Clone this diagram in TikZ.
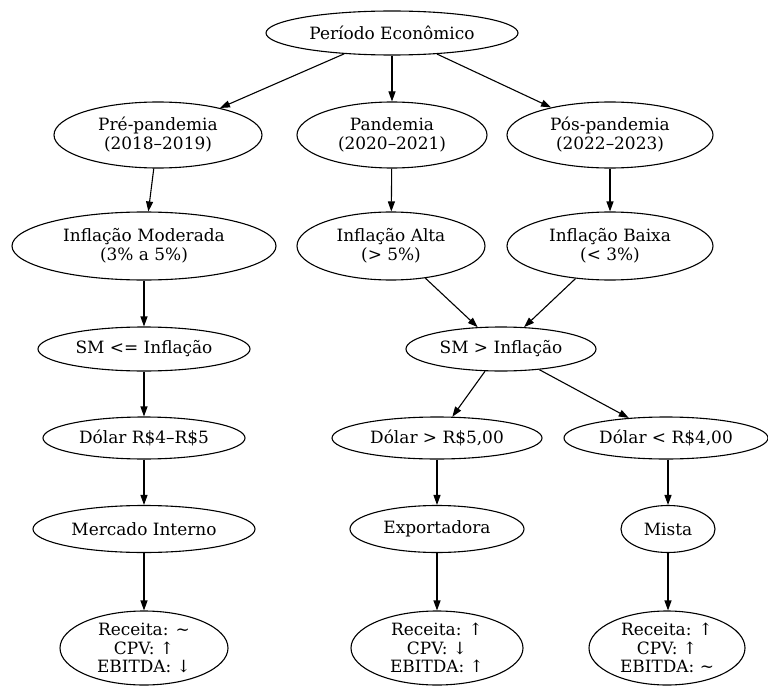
\documentclass[tikz,border=0pt]{standalone}
\usepackage{fontspec}
\setmainfont{DejaVu Serif}
\usetikzlibrary{shapes.geometric,arrows.meta}
\begin{document}
\begin{tikzpicture}[x=1bp,y=-1bp,
  el/.style 2 args={ellipse,draw,line width=1.1bp,inner sep=0pt,minimum width=#1bp,minimum height=#2bp},
  topt/.style={font=\fontsize{17}{19}\selectfont,align=center},
  lowt/.style={font=\fontsize{17}{18.5}\selectfont,align=center},
  arr/.style={-{Triangle[length=10bp,width=7bp]},line width=1.1bp}]
\useasboundingbox[fill=white] (0,0) rectangle (768,686);
% top part
\node[el={252}{44},label={[topt,name=Pt]center:Período Econômico}] (P) at (392,33) {};
\node[el={208}{66},label={[topt,name=pret]center:Pré-pandemia\\(2018–2019)}] (pre) at (158,135) {};
\node[el={190}{66},label={[topt,name=pant]center:Pandemia\\(2020–2021)}] (pan) at (392,135) {};
\node[el={206}{66},label={[topt,name=post]center:Pós-pandemia\\(2022–2023)}] (pos) at (610,135) {};
\node[el={264}{68},label={[topt,name=modt]center:Inflação Moderada\\(3\% a 5\%)}] (mod) at (144,246) {};
\node[el={188}{68},label={[topt,name=altt]center:Inflação Alta\\(> 5\%)}] (alt) at (391,246) {};
\node[el={206}{68},label={[topt,name=bait]center:Inflação Baixa\\(< 3\%)}] (bai) at (610,246) {};
% lower part
\node[el={212}{44},label={[lowt,name=smlt]center:SM <= Inflação}] (sml) at (144,349) {};
\node[el={190}{44},label={[lowt,name=smgt]center:SM > Inflação}] (smg) at (501,349) {};
\node[el={202}{42},label={[lowt,name=d45t]center:Dólar R\$4–R\$5}] (d45) at (144,438) {};
\node[el={210}{42},label={[lowt,name=d5t]center:Dólar > R\$5,00}] (d5) at (437,438) {};
\node[el={204}{42},label={[lowt,name=d4t]center:Dólar < R\$4,00}] (d4) at (666,438) {};
\node[el={222}{47},label={[lowt,name=mit]center:Mercado Interno}] (mi) at (144,529) {};
\node[el={174}{47},label={[lowt,name=expt]center:Exportadora}] (exp) at (437,529) {};
\node[el={94}{47},label={[lowt,name=mist]center:Mista}] (mis) at (668,529) {};
\node[el={168}{74},label={[lowt,name=r1t]center:Receita: \textasciitilde\\CPV: ↑\\EBITDA: ↓}] (r1) at (144,648) {};
\node[el={172}{74},label={[lowt,name=r2t]center:Receita: ↑\\CPV: ↓\\EBITDA: ↑}] (r2) at (437,648) {};
\node[el={156}{74},label={[lowt,name=r3t]center:Receita: ↑\\CPV: ↑\\EBITDA: \textasciitilde}] (r3) at (667,648) {};
% edges
\draw[arr] (P) -- (pre);
\draw[arr] (P) -- (pan);
\draw[arr] (P) -- (pos);
\draw[arr] (pre) -- (mod);
\draw[arr] (pan) -- (alt);
\draw[arr] (pos) -- (bai);
\draw[arr] (mod) -- (sml);
\draw[arr] (alt) -- (smg);
\draw[arr] (bai) -- (smg);
\draw[arr] (sml) -- (d45);
\draw[arr] (smg) -- (d5);
\draw[arr] (smg) -- (d4);
\draw[arr] (d45) -- (mi);
\draw[arr] (d5) -- (exp);
\draw[arr] (d4.south -| mis) -- (mis);
\draw[arr] (mi) -- (r1);
\draw[arr] (exp) -- (r2);
\draw[arr] (mis) -- (mis |- r3.north);
\end{tikzpicture}
\end{document}
